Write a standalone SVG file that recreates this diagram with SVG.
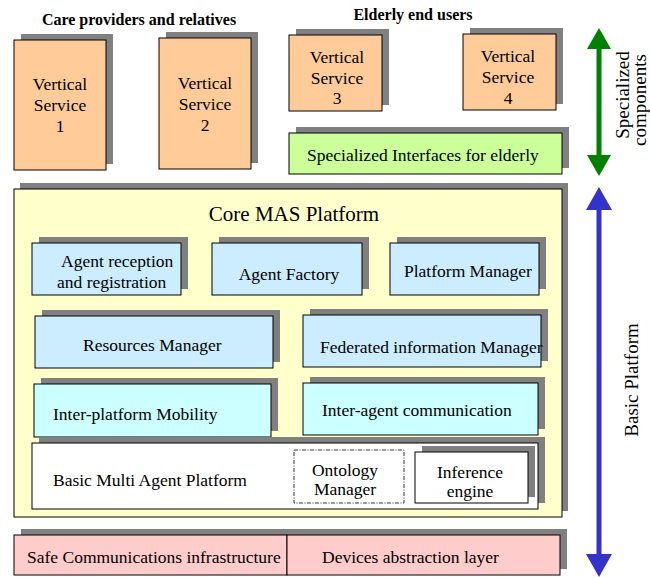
<svg xmlns="http://www.w3.org/2000/svg" width="650" height="577" viewBox="0 0 650 577">
  <style>
    text { font-family: "Liberation Serif", "Times New Roman", serif; fill: #000; }
    .lbl { font-size: 17.5px; }
    .ctr { text-anchor: middle; }
    .hdr { font-size: 16px; font-weight: bold; text-anchor: middle; }
    .side { font-size: 19px; text-anchor: middle; }
    .shadow { fill: #808080; }
    .box { stroke: #000; stroke-width: 1; }
    .orange { fill: #FFCC99; }
    .green { fill: #CCFF99; }
    .yellow { fill: #FFFFCC; }
    .blue { fill: #CCECFF; }
    .cyan { fill: #CCFFFF; }
    .pink { fill: #FFCCCC; }
    .white { fill: #FFFFFF; }
  </style>

  <rect width="650" height="577" fill="#FFFFFF"/>

  <!-- group headings -->
  <text class="hdr" x="139" y="25">Care providers and relatives</text>
  <text class="hdr" x="413" y="20">Elderly end users</text>

  <!-- vertical services -->
  <g id="vs1">
    <rect class="shadow" x="21" y="34" width="92" height="130"/>
    <rect class="box orange" x="14" y="40" width="92" height="130"/>
    <text class="lbl ctr" x="60" y="90">Vertical</text>
    <text class="lbl ctr" x="60" y="111">Service</text>
    <text class="lbl ctr" x="60" y="132">1</text>
  </g>
  <g id="vs2">
    <rect class="shadow" x="166" y="32" width="92" height="131"/>
    <rect class="box orange" x="159" y="38" width="92" height="131"/>
    <text class="lbl ctr" x="205" y="89">Vertical</text>
    <text class="lbl ctr" x="205" y="110">Service</text>
    <text class="lbl ctr" x="205" y="131">2</text>
  </g>
  <g id="vs3">
    <rect class="shadow" x="296" y="29" width="93" height="76"/>
    <rect class="box orange" x="289" y="35" width="93" height="76"/>
    <text class="lbl ctr" x="337" y="63">Vertical</text>
    <text class="lbl ctr" x="337" y="84">Service</text>
    <text class="lbl ctr" x="337" y="104">3</text>
  </g>
  <g id="vs4">
    <rect class="shadow" x="470" y="28" width="93" height="76"/>
    <rect class="box orange" x="463" y="34" width="93" height="76"/>
    <text class="lbl ctr" x="508" y="62">Vertical</text>
    <text class="lbl ctr" x="508" y="83">Service</text>
    <text class="lbl ctr" x="508" y="104">4</text>
  </g>

  <!-- specialized interfaces -->
  <g id="specialized-interfaces">
    <rect class="shadow" x="296" y="127" width="273" height="41"/>
    <rect class="box green" x="289" y="133" width="273" height="41"/>
    <text class="lbl" x="307" y="161">Specialized Interfaces for elderly</text>
  </g>

  <!-- core platform container -->
  <g id="core-mas-platform">
    <rect class="shadow" x="20" y="183" width="548" height="328"/>
    <rect class="box yellow" x="14" y="189" width="548" height="328"/>
    <text x="294" y="221" font-size="21" text-anchor="middle">Core MAS Platform</text>
  </g>

  <g id="agent-reception">
    <rect class="shadow" x="39" y="237" width="149" height="52"/>
    <rect class="box blue" x="32" y="243" width="149" height="52"/>
    <text class="lbl" x="61" y="267">Agent reception</text>
    <text class="lbl" x="57" y="288">and registration</text>
  </g>
  <g id="agent-factory">
    <rect class="shadow" x="219" y="237" width="150" height="52"/>
    <rect class="box blue" x="212" y="243" width="150" height="52"/>
    <text class="lbl ctr" x="289" y="280">Agent Factory</text>
  </g>
  <g id="platform-manager">
    <rect class="shadow" x="397" y="237" width="149" height="52"/>
    <rect class="box blue" x="390" y="243" width="149" height="52"/>
    <text class="lbl" x="404" y="277">Platform Manager</text>
  </g>

  <g id="resources-manager">
    <rect class="shadow" x="42" y="310" width="238" height="52"/>
    <rect class="box blue" x="35" y="316" width="238" height="52"/>
    <text class="lbl" x="83" y="351">Resources Manager</text>
  </g>
  <g id="federated-information-manager">
    <rect class="shadow" x="310" y="309" width="238" height="52"/>
    <rect class="box blue" x="303" y="315" width="238" height="52"/>
    <text class="lbl" x="320" y="353">Federated information Manager</text>
  </g>

  <g id="inter-platform-mobility">
    <rect class="shadow" x="41" y="378" width="237" height="53"/>
    <rect class="box cyan" x="34" y="384" width="237" height="53"/>
    <text class="lbl" x="53" y="420">Inter-platform Mobility</text>
  </g>
  <g id="inter-agent-communication">
    <rect class="shadow" x="310" y="377" width="235" height="52"/>
    <rect class="box cyan" x="303" y="383" width="235" height="52"/>
    <text class="lbl" x="322" y="416">Inter-agent communication</text>
  </g>

  <g id="basic-multi-agent-platform">
    <rect class="shadow" x="39" y="437" width="506" height="66"/>
    <rect class="box white" x="32" y="443" width="506" height="66"/>
    <text class="lbl" x="53" y="486">Basic Multi Agent Platform</text>
  </g>
  <g id="ontology-manager">
    <rect x="294" y="450" width="110" height="53" fill="#FFFFFF" stroke="#000" stroke-width="0.8" stroke-dasharray="4 1.5 1 1.5"/>
    <text class="lbl ctr" x="345" y="476">Ontology</text>
    <text class="lbl ctr" x="345" y="495">Manager</text>
  </g>
  <g id="inference-engine">
    <rect class="shadow" x="422" y="446" width="113" height="51"/>
    <rect class="box white" x="415" y="452" width="113" height="51"/>
    <text class="lbl ctr" x="470" y="478">Inference</text>
    <text class="lbl ctr" x="470" y="497">engine</text>
  </g>

  <!-- infrastructure layer -->
  <g id="safe-communications">
    <rect class="shadow" x="21" y="529" width="273" height="40"/>
    <rect class="box pink" x="14" y="535" width="273" height="40"/>
    <text class="lbl" x="27" y="563">Safe Communications infrastructure</text>
  </g>
  <g id="devices-abstraction">
    <rect class="shadow" x="294" y="529" width="273" height="40"/>
    <rect class="box pink" x="287" y="535" width="273" height="40"/>
    <text class="lbl" x="322" y="563">Devices abstraction layer</text>
  </g>

  <!-- scope arrows -->
  <g id="connectors">
    <line x1="599" y1="46" x2="599" y2="158" stroke="#008000" stroke-width="5"/>
    <polygon points="599,28 587,49 611,49" fill="#008000"/>
    <polygon points="599,176 587,155 611,155" fill="#008000"/>
    <line x1="599" y1="206" x2="599" y2="558" stroke="#3333CC" stroke-width="5"/>
    <polygon points="599,187 586,210 612,210" fill="#3333CC"/>
    <polygon points="599,577 586,554 612,554" fill="#3333CC"/>
  </g>

  <!-- arrow captions -->
  <g id="arrow-labels">
    <text class="side" transform="translate(629,95) rotate(-90)">Specialized</text>
    <text class="side" transform="translate(646,100) rotate(-90)">components</text>
    <text class="side" transform="translate(638,380) rotate(-90)">Basic Platform</text>
  </g>
</svg>
